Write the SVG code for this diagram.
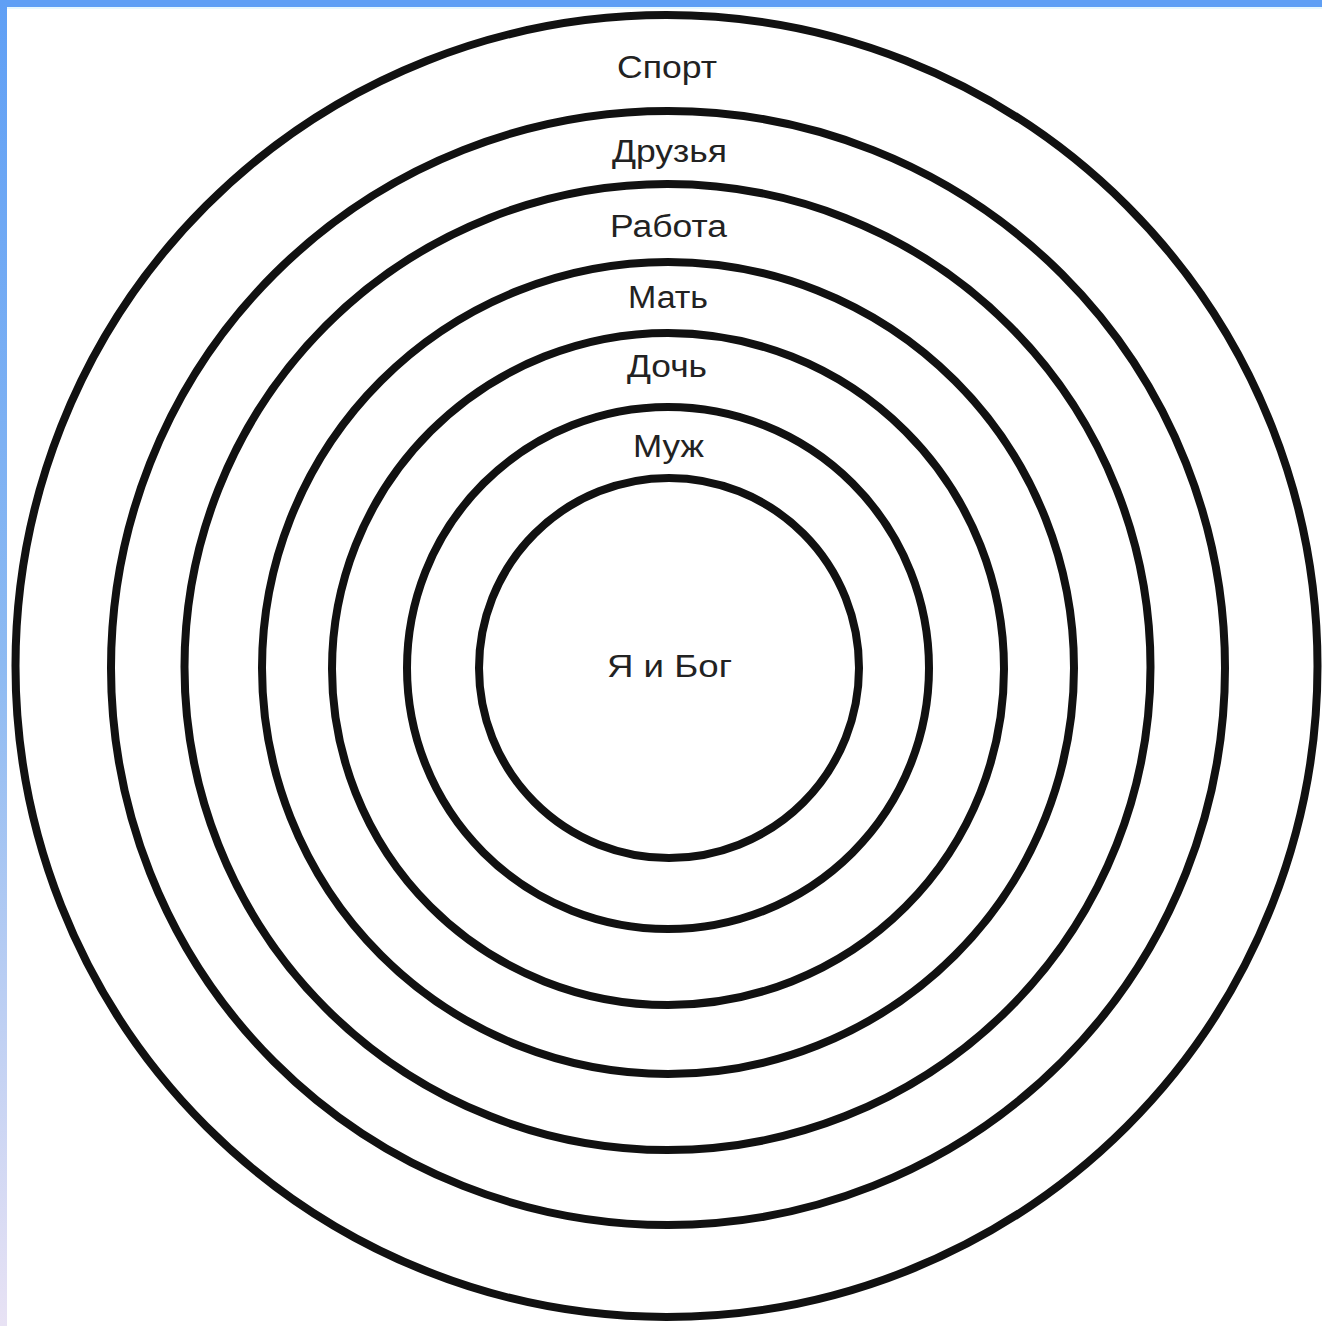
<svg xmlns="http://www.w3.org/2000/svg" width="1322" height="1326" viewBox="0 0 1322 1326">
  <style>
    .ring { fill: none; stroke: #111; stroke-width: 8; }
    .lbl { font-family: "Liberation Sans", Arial, sans-serif; font-size: 31px; fill: #222; text-anchor: middle; }
  </style>
  <defs>
    <linearGradient id="leftBand" x1="0" y1="0" x2="0" y2="1">
      <stop offset="0" stop-color="#5f9ff5"/>
      <stop offset="0.5" stop-color="#8dbaf2"/>
      <stop offset="1" stop-color="#e8e2f4"/>
    </linearGradient>
  </defs>
  <rect x="0" y="0" width="1322" height="1326" fill="#ffffff"/>
  <rect x="0" y="0" width="1322" height="7" fill="#5f9ff5"/>
  <rect x="7" y="7" width="1315" height="2" fill="#e6f8ff"/>
  <rect x="0" y="0" width="7" height="1326" fill="url(#leftBand)"/>

  <g id="connectors"></g>

  <g id="ring-sport">
    <circle class="ring" cx="666.5" cy="666" r="651"/>
    <text class="lbl" x="667" y="78" textLength="100" lengthAdjust="spacingAndGlyphs">Спорт</text>
  </g>
  <g id="ring-druzya">
    <circle class="ring" cx="668" cy="668" r="557"/>
    <text class="lbl" x="669.5" y="162" textLength="115" lengthAdjust="spacingAndGlyphs">Друзья</text>
  </g>
  <g id="ring-rabota">
    <circle class="ring" cx="667.5" cy="667" r="483"/>
    <text class="lbl" x="668.5" y="237" textLength="117" lengthAdjust="spacingAndGlyphs">Работа</text>
  </g>
  <g id="ring-mat">
    <circle class="ring" cx="668" cy="668" r="406"/>
    <text class="lbl" x="668" y="308" textLength="80" lengthAdjust="spacingAndGlyphs">Мать</text>
  </g>
  <g id="ring-doch">
    <circle class="ring" cx="668" cy="669" r="336"/>
    <text class="lbl" x="667" y="377" textLength="80" lengthAdjust="spacingAndGlyphs">Дочь</text>
  </g>
  <g id="ring-muzh">
    <circle class="ring" cx="668" cy="668" r="261"/>
    <text class="lbl" x="668.5" y="457" textLength="71" lengthAdjust="spacingAndGlyphs">Муж</text>
  </g>
  <g id="core">
    <circle class="ring" cx="669" cy="668" r="190"/>
    <text class="lbl" x="669.5" y="677" textLength="125" lengthAdjust="spacingAndGlyphs">Я и Бог</text>
  </g>
</svg>
